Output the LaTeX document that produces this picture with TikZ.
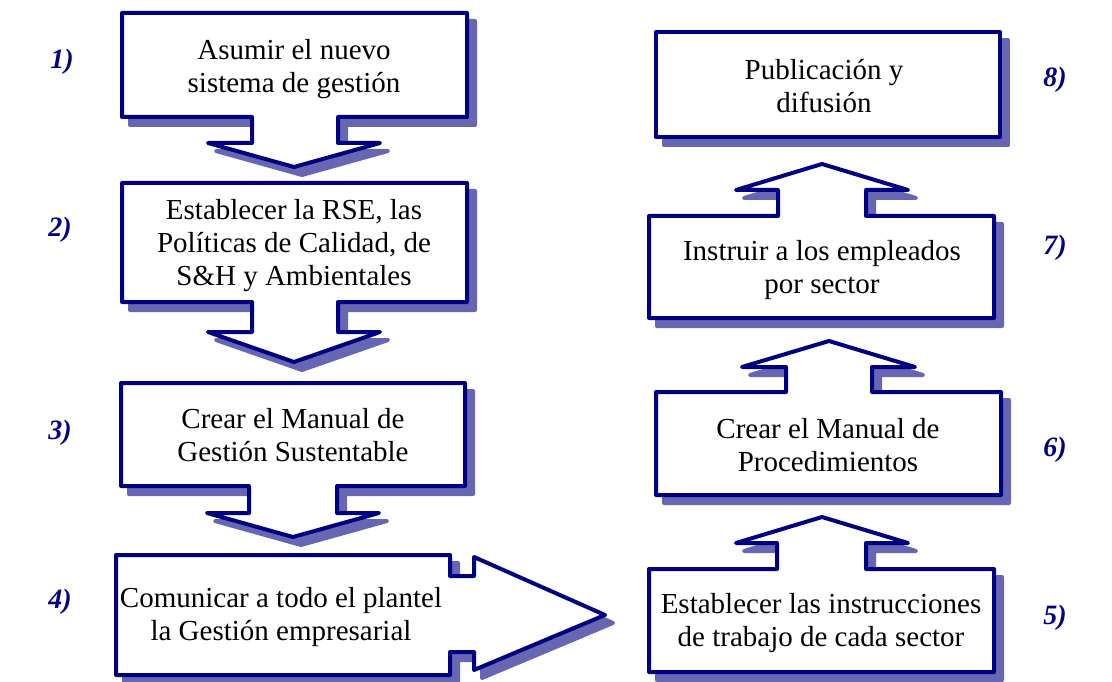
\documentclass[tikz,border=0pt]{standalone}
\usepackage{fontspec}
\setmainfont{Liberation Serif}
\definecolor{navyline}{HTML}{000080}
\definecolor{shadowc}{HTML}{6666B3}
\tikzset{
  shd/.style={fill=shadowc, draw=shadowc, line width=4pt, line join=round, shift={(8,8)}},
  bx/.style={fill=white, draw=navyline, line width=4pt, line join=round},
  lbl/.style={align=center, font=\fontsize{29}{33}\selectfont, text=black, inner sep=0pt},
  num/.style={font=\fontsize{28}{30}\selectfont\bfseries\itshape, text=navyline, inner sep=0pt}
}
\newcommand{\shadowedshape}[1]{\path[shd] #1; \path[bx] #1;}
\begin{document}
\begin{tikzpicture}[x=1pt,y=-1pt]
\useasboundingbox (0,0) rectangle (1112,682);
% left column
\shadowedshape{(122,13) -- (467,13) -- (467,117) -- (338,117) -- (338,143) -- (380,143) -- (294,167) -- (208,143) -- (252,143) -- (252,117) -- (122,117) -- cycle}
\shadowedshape{(122,183) -- (467,183) -- (467,302) -- (338,302) -- (338,332) -- (380,332) -- (294,362) -- (208,332) -- (252,332) -- (252,302) -- (122,302) -- cycle}
\shadowedshape{(121,383) -- (465,383) -- (465,486) -- (337,486) -- (337,513) -- (379,513) -- (293,537) -- (207,513) -- (249,513) -- (249,486) -- (121,486) -- cycle}
\shadowedshape{(116,555) -- (450,555) -- (450,576) -- (474,576) -- (474,557) -- (605,615) -- (474,670) -- (474,652) -- (450,652) -- (450,675) -- (116,675) -- cycle}
% right column
\shadowedshape{(656,32) -- (1000,32) -- (1000,137) -- (656,137) -- cycle}
\shadowedshape{(649,216) -- (778,216) -- (778,190) -- (736,190) -- (822,164) -- (908,190) -- (866,190) -- (866,216) -- (994,216) -- (994,318) -- (649,318) -- cycle}
\shadowedshape{(656,392) -- (786,392) -- (786,367) -- (742,367) -- (829,341) -- (915,367) -- (872,367) -- (872,392) -- (1001,392) -- (1001,495) -- (656,495) -- cycle}
\shadowedshape{(649,569) -- (777,569) -- (777,543) -- (736,543) -- (822,517) -- (908,543) -- (866,543) -- (866,569) -- (994,569) -- (994,672) -- (649,672) -- cycle}
% texts
\node[lbl] (t1) at (294,69) {Asumir el nuevo\\sistema de gestión};
\node[lbl] (t2) at (294,246) {Establecer la RSE, las\\Políticas de Calidad, de\\S\&H y Ambientales};
\node[lbl] (t3) at (293,435) {Crear el Manual de\\Gestión Sustentable};
\node[lbl] (t4) at (281,617) {Comunicar a todo el plantel\\la Gestión empresarial};
\node[lbl] (t5) at (821,623) {Establecer las instrucciones\\de trabajo de cada sector};
\node[lbl] (t6) at (828,445) {Crear el Manual de\\Procedimientos};
\node[lbl] (t7) at (822,270) {Instruir a los empleados\\por sector};
\node[lbl] (t8) at (824,86) {Publicación y\\difusión};
% numbers
\node[num] (n1) at (62,62) {1)};
\node[num] (n2) at (60,230) {2)};
\node[num] (n3) at (60,433) {3)};
\node[num] (n4) at (60,602) {4)};
\node[num] (n5) at (1055,618) {5)};
\node[num] (n6) at (1055,450) {6)};
\node[num] (n7) at (1055,248) {7)};
\node[num] (n8) at (1055,80) {8)};
\end{tikzpicture}
\end{document}
